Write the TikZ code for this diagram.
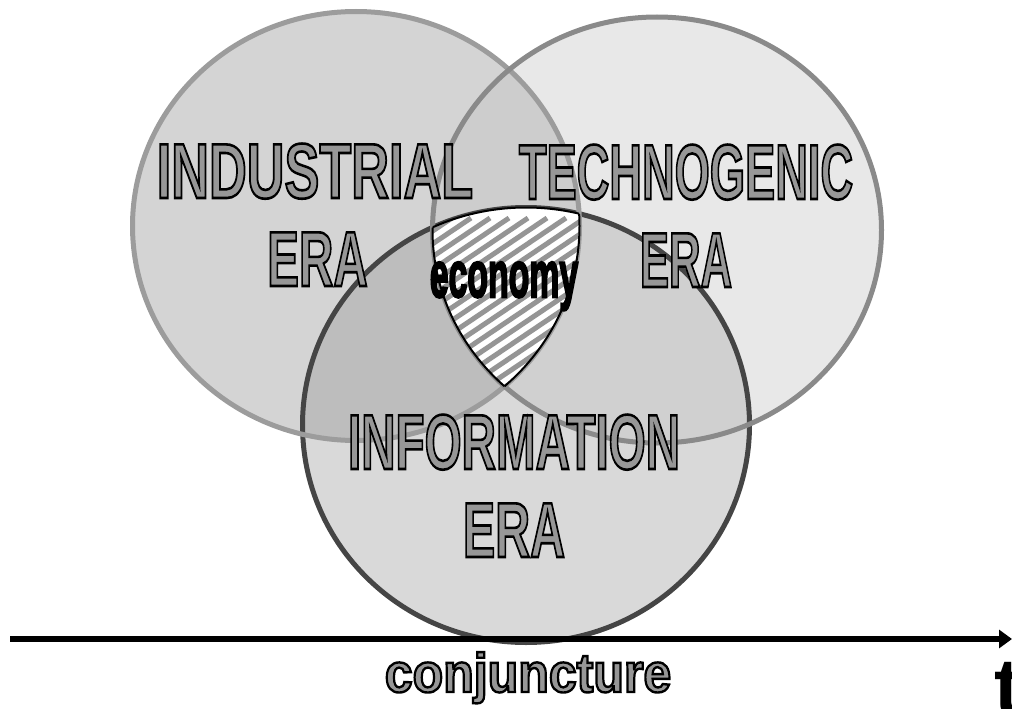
\documentclass[tikz,border=0pt]{standalone}
\usepackage{fontspec}
\setmainfont{Liberation Sans}
\usetikzlibrary{arrows.meta}

\definecolor{indfill}{HTML}{D4D4D4}
\definecolor{tecfill}{HTML}{E8E8E8}
\definecolor{inffill}{HTML}{D9D9D9}
\definecolor{indtec}{HTML}{CDCDCD}
\definecolor{indinf}{HTML}{BDBDBD}
\definecolor{tecinf}{HTML}{D0D0D0}
\definecolor{indline}{HTML}{9C9C9C}
\definecolor{tecline}{HTML}{8A8A8A}
\definecolor{infline}{HTML}{454545}
\definecolor{txtgray}{HTML}{979797}
\definecolor{stripegray}{HTML}{959595}

% gray letters with a black outline
\newcommand{\outl}[2]{\textcolor{txtgray}{\special{pdf:literal direct 2 Tr #1 w 0 G}#2\special{pdf:literal direct 0 Tr}}}
\newcommand{\era}[2]{\scalebox{#1}[1]{\outl{2.6}{#2}}}
\newcommand{\indcirc}{(356,226) ellipse [x radius=223.5, y radius=214.5]}
\newcommand{\teccirc}{(657,230) ellipse [x radius=224.5, y radius=213]}
\newcommand{\infcirc}{(526,425) ellipse [x radius=223.5, y radius=217.5]}

\tikzset{
  eralabel/.style={anchor=base, inner sep=0pt, font=\fontsize{78}{88}\selectfont\bfseries},
  econlabel/.style={anchor=base, inner sep=0pt, font=\fontsize{65}{70}\selectfont\bfseries},
  conjlabel/.style={anchor=base, inner sep=0pt, font=\fontsize{55}{60}\selectfont\bfseries},
  tlabel/.style={anchor=base west, inner sep=0pt, font=\fontsize{80}{80}\selectfont\bfseries},
  stripe/.style={stripegray, line width=5pt},
  axisline/.style={line width=6pt, -{Triangle[length=13pt,width=18pt]}}
}

\begin{document}
\begin{tikzpicture}[x=1pt, y=-1pt]
    \useasboundingbox (0,0) rectangle (1012,709);
    % circle fills
    \fill[indfill] \indcirc;
    \fill[tecfill] \teccirc;
    \fill[inffill] \infcirc;
    \begin{scope}
      \clip \indcirc;
      \fill[indtec] \teccirc;
      \fill[indinf] \infcirc;
    \end{scope}
    \begin{scope}
      \clip \teccirc;
      \fill[tecinf] \infcirc;
    \end{scope}
    % circle borders
    \draw[infline, line width=5pt] \infcirc;
    \draw[indline, line width=5pt] \indcirc;
    \draw[tecline, line width=5pt] \teccirc;
    % hatched common part
    \begin{scope}
      \clip \indcirc;
      \clip \teccirc;
      \clip \infcirc;
      \fill[white] (400,180) rectangle (620,420);
      \foreach \k in {-12,...,12}
        \draw[stripe] (380+\k*19,420) -- ++(300,-202);
    \end{scope}
    \begin{scope}
      \clip \teccirc;
      \clip \infcirc;
      \draw[line width=2pt] \indcirc;
    \end{scope}
    \begin{scope}
      \clip \indcirc;
      \clip \infcirc;
      \draw[line width=2pt] \teccirc;
    \end{scope}
    \begin{scope}
      \clip \indcirc;
      \clip \teccirc;
      \draw[line width=2pt] \infcirc;
    \end{scope}
    % labels
    \node[eralabel] (indu) at (315,198) {\era{0.67}{INDUSTRIAL}};
    \node[eralabel] (induera) at (317.5,286) {\era{0.61}{ERA}};
    \node[eralabel] (tech) at (686,199) {\era{0.58}{TECHNOGENIC}};
    \node[eralabel] (techera) at (686,287) {\era{0.56}{ERA}};
    \node[eralabel] (info) at (514,469) {\era{0.61}{INFORMATION}};
    \node[eralabel] (infoera) at (514,557) {\era{0.62}{ERA}};
    \node[econlabel] (econ) at (504,297) {\scalebox{0.52}[1]{\special{pdf:literal direct 2 Tr 2.5 w}economy\special{pdf:literal direct 0 Tr}}};
    % time axis
    \coordinate (tstart) at (10,639);
    \coordinate (tend) at (1012,639);
    \draw[axisline] (tstart) -- (tend);
    \node[conjlabel] (conj) at (528,692) {\scalebox{0.91}[1]{\outl{2.4}{conjuncture}}};
    \node[tlabel] (t) at (994,714) {t};
\end{tikzpicture}
\end{document}
